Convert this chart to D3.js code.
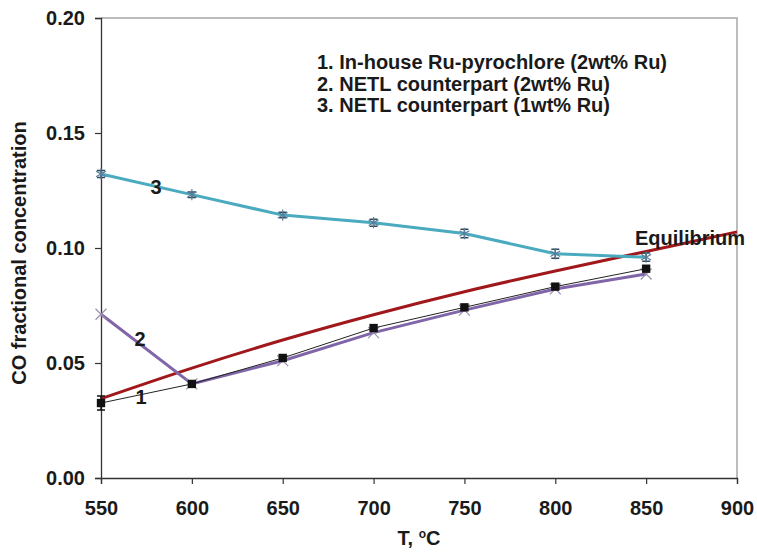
<!DOCTYPE html>
<html>
<head>
<meta charset="utf-8">
<script src="https://cdn.jsdelivr.net/npm/d3@7/dist/d3.min.js"></script>
<style>
  html, body { margin: 0; padding: 0; background: #fff; }
  svg text { font-family: "Liberation Sans", Arial, sans-serif; font-weight: bold; }
</style>
</head>
<body>
<svg id="chart" width="757" height="554"></svg>
<script>
// Temperatures (°C) at which CO fraction was measured
const temps = [550, 600, 650, 700, 750, 800, 850];
// 1. In-house Ru-pyrochlore (2wt% Ru)
const inHouse2 = [0.0326, 0.0409, 0.0522, 0.0652, 0.0742, 0.0832, 0.0910];
const inHouse2Err = [0.0030, 0, 0, 0, 0, 0, 0];
// 2. NETL counterpart (2wt% Ru)
const netl2 = [0.0712, 0.0409, 0.0510, 0.0632, 0.0730, 0.0822, 0.0887];
// 3. NETL counterpart (1wt% Ru)
const netl1 = [0.1322, 0.1232, 0.1143, 0.1110, 0.1063, 0.0975, 0.0960];
const netl1Err = [0.0015, 0.0012, 0.0012, 0.0015, 0.0018, 0.0020, 0.0018];
// Equilibrium CO fraction
const eqTemps = [550, 600, 650, 700, 750, 800, 850, 900];
const equilibrium = [0.0345, 0.0478, 0.0600, 0.0710, 0.0810, 0.0900, 0.0985, 0.1070];

const xTicks = [550, 600, 650, 700, 750, 800, 850, 900];
const yTicks = [0.00, 0.05, 0.10, 0.15, 0.20];
const legendLines = [
  "1. In-house Ru-pyrochlore (2wt% Ru)",
  "2. NETL counterpart (2wt% Ru)",
  "3. NETL counterpart (1wt% Ru)"
];

const FS = "20px";
const svg = d3.select("#chart");
const m = { left: 101, right: 737, top: 18, bottom: 478 };

const x = d3.scaleLinear().domain([550, 900]).range([m.left, m.right]);
const y = d3.scaleLinear().domain([0, 0.20]).range([m.bottom, m.top]);

// plot frame (top and right edges, light grey)
svg.append("path")
  .attr("d", `M${m.left},${m.top}H${m.right}V${m.bottom}`)
  .attr("fill", "none").attr("stroke", "#a8a8a8").attr("stroke-width", 1.5);

// axes
const xAxis = svg.append("g").attr("transform", `translate(0,${m.bottom})`)
  .call(d3.axisBottom(x).tickValues(xTicks).tickFormat(d3.format("d")).tickSizeOuter(0).tickSize(6).tickPadding(17));
const yAxis = svg.append("g").attr("transform", `translate(${m.left},0)`)
  .call(d3.axisLeft(y).tickValues(yTicks).tickFormat(d3.format(".2f")).tickSizeOuter(0).tickSize(6).tickPadding(10));
[xAxis, yAxis].forEach(g => {
  g.select(".domain").attr("stroke", "#333").attr("stroke-width", 1.3);
  g.selectAll(".tick line").attr("stroke", "#333").attr("stroke-width", 1.2);
  g.selectAll(".tick text").attr("fill", "#1a1a1a").style("font-size", FS);
});

// axis titles
const xt = svg.append("text").attr("x", 419).attr("y", 545).attr("text-anchor", "middle")
  .style("font-size", FS).attr("fill", "#1a1a1a");
xt.append("tspan").text("T, ");
xt.append("tspan").text("o").style("font-size", "12px").attr("dy", -7);
xt.append("tspan").text("C").attr("dy", 7);

svg.append("text").attr("transform", "translate(26,253) rotate(-90)").attr("text-anchor", "middle")
  .style("font-size", FS).attr("fill", "#1a1a1a").text("CO fractional concentration");

const line = d3.line().x(d => x(d[0])).y(d => y(d[1]));

// equilibrium curve
svg.append("path").datum(eqTemps.map((t, i) => [t, equilibrium[i]]))
  .attr("d", line.curve(d3.curveMonotoneX)).attr("fill", "none")
  .attr("stroke", "#a0181c").attr("stroke-width", 3);
line.curve(d3.curveLinear);

function errorBars(vals, errs, color) {
  const g = svg.append("g");
  temps.forEach((t, i) => {
    if (!errs[i]) return;
    const cx = x(t), y0 = y(vals[i] - errs[i]), y1 = y(vals[i] + errs[i]);
    g.append("path").attr("d", `M${cx},${y0}V${y1}M${cx - 4},${y0}H${cx + 4}M${cx - 4},${y1}H${cx + 4}`)
      .attr("stroke", color).attr("stroke-width", 1.5).attr("fill", "none");
  });
}

// series 3: NETL 1wt%
svg.append("path").datum(temps.map((t, i) => [t, netl1[i]]))
  .attr("d", line).attr("fill", "none").attr("stroke", "#4aaabf").attr("stroke-width", 3);
errorBars(netl1, netl1Err, "#2e4a5c");
svg.append("g").selectAll("path").data(temps.map((t, i) => [t, netl1[i]])).join("path")
  .attr("transform", d => `translate(${x(d[0])},${y(d[1])})`)
  .attr("d", d3.symbol(d3.symbolAsterisk, 90)).attr("fill", "none")
  .attr("stroke", "#5d7f9a").attr("stroke-width", 1.2);

// series 2: NETL 2wt%
svg.append("path").datum(temps.map((t, i) => [t, netl2[i]]))
  .attr("d", line).attr("fill", "none").attr("stroke", "#8066a8").attr("stroke-width", 3);
svg.append("g").selectAll("path").data(temps.map((t, i) => [t, netl2[i]])).join("path")
  .attr("transform", d => `translate(${x(d[0])},${y(d[1])})`)
  .attr("d", d3.symbol(d3.symbolTimes, 80)).attr("fill", "none")
  .attr("stroke", "#9a90b0").attr("stroke-width", 1.2);

// series 1: in-house 2wt%
svg.append("path").datum(temps.map((t, i) => [t, inHouse2[i]]))
  .attr("d", line).attr("fill", "none").attr("stroke", "#222").attr("stroke-width", 1);
errorBars(inHouse2, inHouse2Err, "#111");
svg.append("g").selectAll("path").data(temps.map((t, i) => [t, inHouse2[i]])).join("path")
  .attr("transform", d => `translate(${x(d[0])},${y(d[1])})`)
  .attr("d", d3.symbol(d3.symbolSquare, 70)).attr("fill", "#111");

// series number labels
const numLab = [["3", 156, 194], ["2", 140, 346], ["1", 141, 404]];
svg.append("g").selectAll("text").data(numLab).join("text")
  .attr("x", d => d[1]).attr("y", d => d[2]).attr("text-anchor", "middle")
  .style("font-size", FS).attr("fill", "#1a1a1a").text(d => d[0]);

svg.append("text").attr("x", 635).attr("y", 245).style("font-size", FS)
  .attr("fill", "#1a1a1a").text("Equilibrium");

// legend block
svg.append("g").selectAll("text").data(legendLines).join("text")
  .attr("x", 317).attr("y", (d, i) => 69 + i * 21.5)
  .style("font-size", FS).attr("fill", "#1a1a1a").text(d => d);
</script>
</body>
</html>
